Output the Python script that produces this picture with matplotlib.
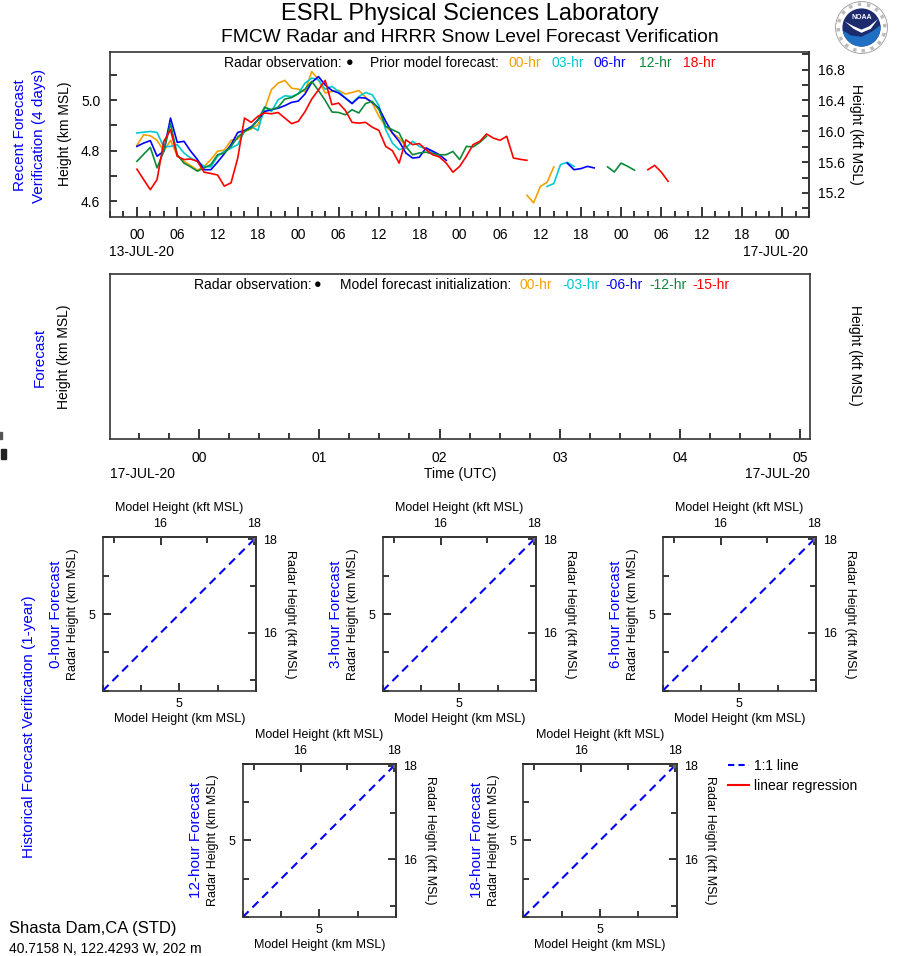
import matplotlib
matplotlib.use('Agg')
import matplotlib.pyplot as plt
from matplotlib.ticker import MultipleLocator, FuncFormatter, FormatStrFormatter, NullLocator
from matplotlib.lines import Line2D
from matplotlib.patches import Circle, Polygon, Rectangle
import numpy as np

plt.rcParams['font.family'] = ['Liberation Sans', 'DejaVu Sans']

nan = np.nan
W, H = 898, 956
KFT = 3.28084

# recent verification: hourly snow level (km MSL), hour 0 = 13-JUL-20 00 UTC
hours = np.arange(80)
fc00 = [4.821, 4.863, 4.859, 4.841, 4.798, 4.841, 4.780, 4.758, 4.741, 4.723,
        4.738, 4.765, 4.798, 4.802, 4.841, 4.846, 4.876, 4.886, 4.903, 4.964,
        5.041, 5.067, 5.078, 5.047, 5.043, 5.034, 5.113, 5.080, 5.028, 5.034,
        5.038, 5.024, 5.030, 5.038, 5.012, 4.988, 4.936, 4.896, 4.870, 4.850,
        4.817] + [nan] * 17 + [4.624, 4.594, 4.659, 4.675, 4.736] + [nan] * 17
fc03 = [4.870, 4.873, 4.876, 4.872, 4.815, 4.817, 4.824, 4.791, 4.771, 4.758,
        4.738, 4.736, 4.778, 4.798, 4.810, 4.824, 4.876, 4.896, 4.880, 4.972,
        4.955, 5.001, 5.017, 5.014, 5.025, 5.067, 5.087, 5.080, 5.043, 5.054,
        5.034, 5.008, 4.988, 5.014, 5.030, 5.021, 4.978, 4.883, 4.830, 4.804,
        4.811, 4.837, 4.817, 4.807, 4.791, 4.780] + [nan] * 15 + \
       [4.659, 4.670, 4.745, 4.754, 4.738] + [nan] * 14
fc06 = [4.817, 4.830, 4.840, 4.778, 4.798, 4.929, 4.833, 4.837, 4.798, 4.765,
        4.725, 4.725, 4.755, 4.788, 4.824, 4.872, 4.880, 4.893, 4.922, 4.955,
        4.962, 4.968, 4.978, 4.991, 4.996, 5.024, 5.070, 5.093, 5.060, 5.038,
        5.028, 5.008, 4.986, 5.010, 5.008, 4.991, 4.968, 4.916, 4.870, 4.837,
        4.791, 4.771, 4.774, 4.811, 4.798, 4.784, 4.762] + [nan] * 17 + \
       [4.751, 4.725, 4.729, 4.738, 4.732] + [nan] * 11
fc12 = [4.758, 4.786, 4.813, 4.732, 4.798, 4.907, 4.784, 4.751, 4.736, 4.719,
        4.732, 4.745, 4.784, 4.791, 4.817, 4.854, 4.876, 4.890, 4.922, 4.972,
        4.962, 4.972, 5.004, 5.010, 5.025, 5.043, 5.074, 5.038, 4.999, 4.953,
        4.951, 4.942, 4.962, 4.949, 4.986, 4.995, 4.962, 4.896, 4.883, 4.870,
        4.817, 4.784, 4.791, 4.794, 4.788, 4.784, 4.784, 4.797, 4.765, 4.817,
        4.815, 4.833, 4.857] + [nan] * 17 + [4.736, 4.716, 4.751, 4.738, 4.723] + [nan] * 5
fc18 = [4.727, 4.686, 4.646, 4.686, 4.837, 4.883, 4.778, 4.765, 4.767, 4.758,
        4.715, 4.710, 4.704, 4.660, 4.673, 4.771, 4.929, 4.912, 4.936, 4.949,
        4.946, 4.951, 4.929, 4.907, 4.916, 4.954, 5.004, 5.040, 5.078, 4.982,
        4.988, 4.959, 4.912, 4.909, 4.912, 4.893, 4.880, 4.817, 4.800, 4.751,
        4.843, 4.824, 4.828, 4.804, 4.784, 4.775, 4.751, 4.715, 4.738, 4.778,
        4.824, 4.837, 4.866, 4.850, 4.841, 4.857, 4.771, 4.766, 4.762] + [nan] * 17 + \
       [4.725, 4.742, 4.715, 4.679]

prior_labels = ['00-hr', '03-hr', '06-hr', '12-hr', '18-hr']
init_labels = ['00-hr', '-03-hr', '-06-hr', '-12-hr', '-15-hr']
colors = ['#f5a000', '#00c8d2', '#0000ff', '#0b8a3a', '#ff0000']
panel_names = ['0-hour Forecast', '3-hour Forecast', '6-hour Forecast',
               '12-hour Forecast', '18-hour Forecast']

fig = plt.figure(figsize=(W / 100, H / 100), dpi=100)
SPINE = '#333333'


def ax_px(l, t, r, b):
    return fig.add_axes([l / W, 1 - b / H, (r - l) / W, (b - t) / H])


def ftxt(x, y, s, **kw):
    kw.setdefault('va', 'center')
    kw.setdefault('fontsize', 10)
    return fig.text(x / W, 1 - y / H, s, **kw)


def style(ax):
    for sp in ax.spines.values():
        sp.set_color(SPINE)
        sp.set_linewidth(1.2)


# titles
ftxt(470, 14, 'ESRL Physical Sciences Laboratory', fontsize=17, ha='center')
ftxt(470, 38, 'FMCW Radar and HRRR Snow Level Forecast Verification', fontsize=13.8, ha='center')

# ---- recent forecast verification (4 days)
ax1 = ax_px(110, 52, 809.3, 216.5)
for vals, col in zip([fc00, fc03, fc06, fc12, fc18], colors):
    ax1.plot(hours, vals, color=col, lw=1.2)
ax1.set_xlim(-4, 100)
ax1.set_ylim(4.54, 5.19)
ax1.xaxis.set_major_locator(MultipleLocator(6))
ax1.xaxis.set_minor_locator(MultipleLocator(2))
ax1.xaxis.set_major_formatter(FuncFormatter(lambda v, p: '%02d' % (int(round(v)) % 24)))
ax1.yaxis.set_major_locator(MultipleLocator(0.2))
ax1.yaxis.set_minor_locator(MultipleLocator(0.1))
ax1.yaxis.set_major_formatter(FormatStrFormatter('%.1f'))
ax1.tick_params(axis='x', which='major', direction='in', length=7, width=1.1, pad=8, labelsize=10)
ax1.tick_params(axis='x', which='minor', direction='in', length=4, width=1.1)
ax1.tick_params(axis='y', which='both', direction='in', length=5, width=1.1, pad=7, labelsize=10)
style(ax1)
sec1 = ax1.secondary_yaxis('right', functions=(lambda x: x * KFT, lambda x: x / KFT))
sec1.yaxis.set_major_locator(MultipleLocator(0.4))
sec1.yaxis.set_minor_locator(MultipleLocator(0.2))
sec1.yaxis.set_major_formatter(FormatStrFormatter('%.1f'))
sec1.tick_params(which='both', direction='in', length=5, width=1.1, pad=6, labelsize=10)
style(sec1)

ftxt(224, 62.7, 'Radar observation:', ha='left')
ftxt(350, 63, '\u25cf', ha='center', fontsize=9)
ftxt(370, 62.7, 'Prior model forecast:', ha='left')
for xp, lab, col in zip([508, 552, 594, 639, 683], prior_labels, colors):
    ftxt(xp, 62.7, lab, ha='left', color=col)
ftxt(109, 252, '13-JUL-20', ha='left')
ftxt(808, 252, '17-JUL-20', ha='right')
ftxt(20, 135, 'Recent Forecast', rotation=90, ha='center', color='blue', fontsize=11)
ftxt(39, 136, 'Verification (4 days)', rotation=90, ha='center', color='blue', fontsize=11)
ftxt(65, 134, 'Height (km MSL)', rotation=90, ha='center')
ftxt(856, 134, 'Height (kft MSL)', rotation=-90, ha='center')

# ---- forecast panel (empty)
ax2 = ax_px(110, 274, 810, 439)
ax2.set_xlim(-0.74, 5.08)
ax2.set_ylim(0, 1)
ax2.yaxis.set_major_locator(NullLocator())
ax2.xaxis.set_major_locator(MultipleLocator(1))
ax2.xaxis.set_minor_locator(MultipleLocator(0.25))
ax2.xaxis.set_major_formatter(FuncFormatter(lambda v, p: '%02d' % int(round(v))))
ax2.tick_params(axis='x', which='major', direction='in', length=7, width=1.1, pad=9, labelsize=10)
ax2.tick_params(axis='x', which='minor', direction='in', length=4, width=1.1)
style(ax2)

ftxt(194, 285, 'Radar observation:', ha='left')
ftxt(318, 285.5, '\u25cf', ha='center', fontsize=9)
ftxt(340, 285, 'Model forecast initialization:', ha='left')
for xp, lab, col in zip([519, 562, 605, 649, 692], init_labels, colors):
    ftxt(xp, 285, lab, ha='left', color=col)
ftxt(110, 474, '17-JUL-20', ha='left')
ftxt(810, 474, '17-JUL-20', ha='right')
ftxt(460, 474, 'Time (UTC)', ha='center')
ftxt(40, 357, 'Forecast', rotation=90, ha='center', color='blue', fontsize=11)
ftxt(64, 357, 'Height (km MSL)', rotation=90, ha='center')
ftxt(855, 355, 'Height (kft MSL)', rotation=-90, ha='center')
fig.patches.append(Rectangle((0 / W, 1 - 439 / H), 2 / W, 7 / H, transform=fig.transFigure,
                             color='#555555'))
fig.patches.append(Rectangle((1 / W, 1 - 459 / H), 5 / W, 10 / H, transform=fig.transFigure,
                             color='#222222'))

# ---- historical verification scatter panels
km_lim = [4.5, 5.5]
panel_pos = [(102.7, 537.3), (382.7, 537.3), (662.7, 537.3), (242.7, 763.7), (523.3, 763.7)]
SZ = 153.5
for (l, t), name in zip(panel_pos, panel_names):
    r, b = l + SZ, t + SZ
    cx, cy = (l + r) / 2, (t + b) / 2
    ax = ax_px(l, t, r, b)
    ax.plot(km_lim, km_lim, color='blue', ls='--', lw=1.5, dashes=(4, 2.6))
    ax.plot([km_lim[1] - 0.01], [km_lim[1] - 0.01], marker='s', ms=3, color='#666666')
    ax.set_xlim(km_lim)
    ax.set_ylim(km_lim)
    for axis in (ax.xaxis, ax.yaxis):
        axis.set_major_locator(MultipleLocator(1))
        axis.set_minor_locator(MultipleLocator(0.25))
        axis.set_major_formatter(FormatStrFormatter('%d'))
    ax.tick_params(which='major', direction='in', length=6, width=1.1, pad=5, labelsize=9)
    ax.tick_params(which='minor', direction='in', length=4, width=1.1)
    style(ax)
    sx = ax.secondary_xaxis('top', functions=(lambda x: x * KFT, lambda x: x / KFT))
    sy = ax.secondary_yaxis('right', functions=(lambda x: x * KFT, lambda x: x / KFT))
    for s, axis in ((sx, sx.xaxis), (sy, sy.yaxis)):
        axis.set_major_locator(MultipleLocator(2))
        axis.set_minor_locator(MultipleLocator(1))
        axis.set_major_formatter(FormatStrFormatter('%d'))
        s.tick_params(which='major', direction='in', length=6, width=1.1, pad=5, labelsize=9)
        s.tick_params(which='minor', direction='in', length=4, width=1.1)
        style(s)
    ftxt(cx, t - 29, 'Model Height (kft MSL)', ha='center', fontsize=9)
    ftxt(cx, b + 28, 'Model Height (km MSL)', ha='center', fontsize=9)
    ftxt(l - 29.4, cy, 'Radar Height (km MSL)', rotation=90, ha='center', fontsize=9)
    ftxt(l - 46.7, cy, name, rotation=90, ha='center', color='blue', fontsize=11)
    ftxt(r + 33.3, cy, 'Radar Height (kft MSL)', rotation=-90, ha='center', fontsize=9)

ftxt(29, 727, 'Historical Forecast Verification (1-year)', rotation=90, ha='center',
     color='blue', fontsize=11)

handles = [Line2D([], [], color='blue', ls='--', lw=1.5, dashes=(3, 2)),
           Line2D([], [], color='red', lw=1.5)]
fig.legend(handles, ['1:1 line', 'linear regression'], loc='upper left',
           bbox_to_anchor=(728 / W, 1 - 759 / H), frameon=False, fontsize=10,
           handlelength=1.5, handletextpad=0.4, labelspacing=0.45,
           borderpad=0, borderaxespad=0)

ftxt(9.3, 929, 'Shasta Dam,CA (STD)', ha='left', fontsize=12)
ftxt(9.3, 948.7, '40.7158 N, 122.4293 W, 202 m', ha='left', fontsize=10)

# ---- NOAA emblem
axl = ax_px(833, 1, 890, 54)
axl.set_xlim(-1, 1)
axl.set_ylim(-1, 1)
axl.set_aspect('equal')
axl.axis('off')
axl.add_patch(Circle((0, 0), 0.98, fc='white', ec='#999999', lw=0.6))
axl.add_patch(Circle((0, 0), 0.88, fc='none', ec='#bbbbbb', lw=2.5, ls=':'))
inner = Circle((0, 0), 0.72, fc='#1c2a6e', ec='none')
axl.add_patch(inner)
sea = Polygon([(-0.8, -0.05), (-0.4, -0.3), (0, -0.35), (0.4, -0.15), (0.8, 0.15),
               (0.8, -0.8), (-0.8, -0.8)], fc='#1f6fc2', ec='none')
axl.add_patch(sea)
sea.set_clip_path(inner)
bird = Polygon([(-0.62, 0.22), (-0.3, -0.05), (0.0, -0.2), (0.35, -0.05), (0.62, 0.32),
                (0.3, 0.05), (0.0, -0.08), (-0.3, 0.05)], fc='white', ec='none')
axl.add_patch(bird)
axl.text(0, 0.38, 'NOAA', color='white', fontsize=5, fontweight='bold', ha='center', va='center')

fig.savefig('out.png', dpi=100)
